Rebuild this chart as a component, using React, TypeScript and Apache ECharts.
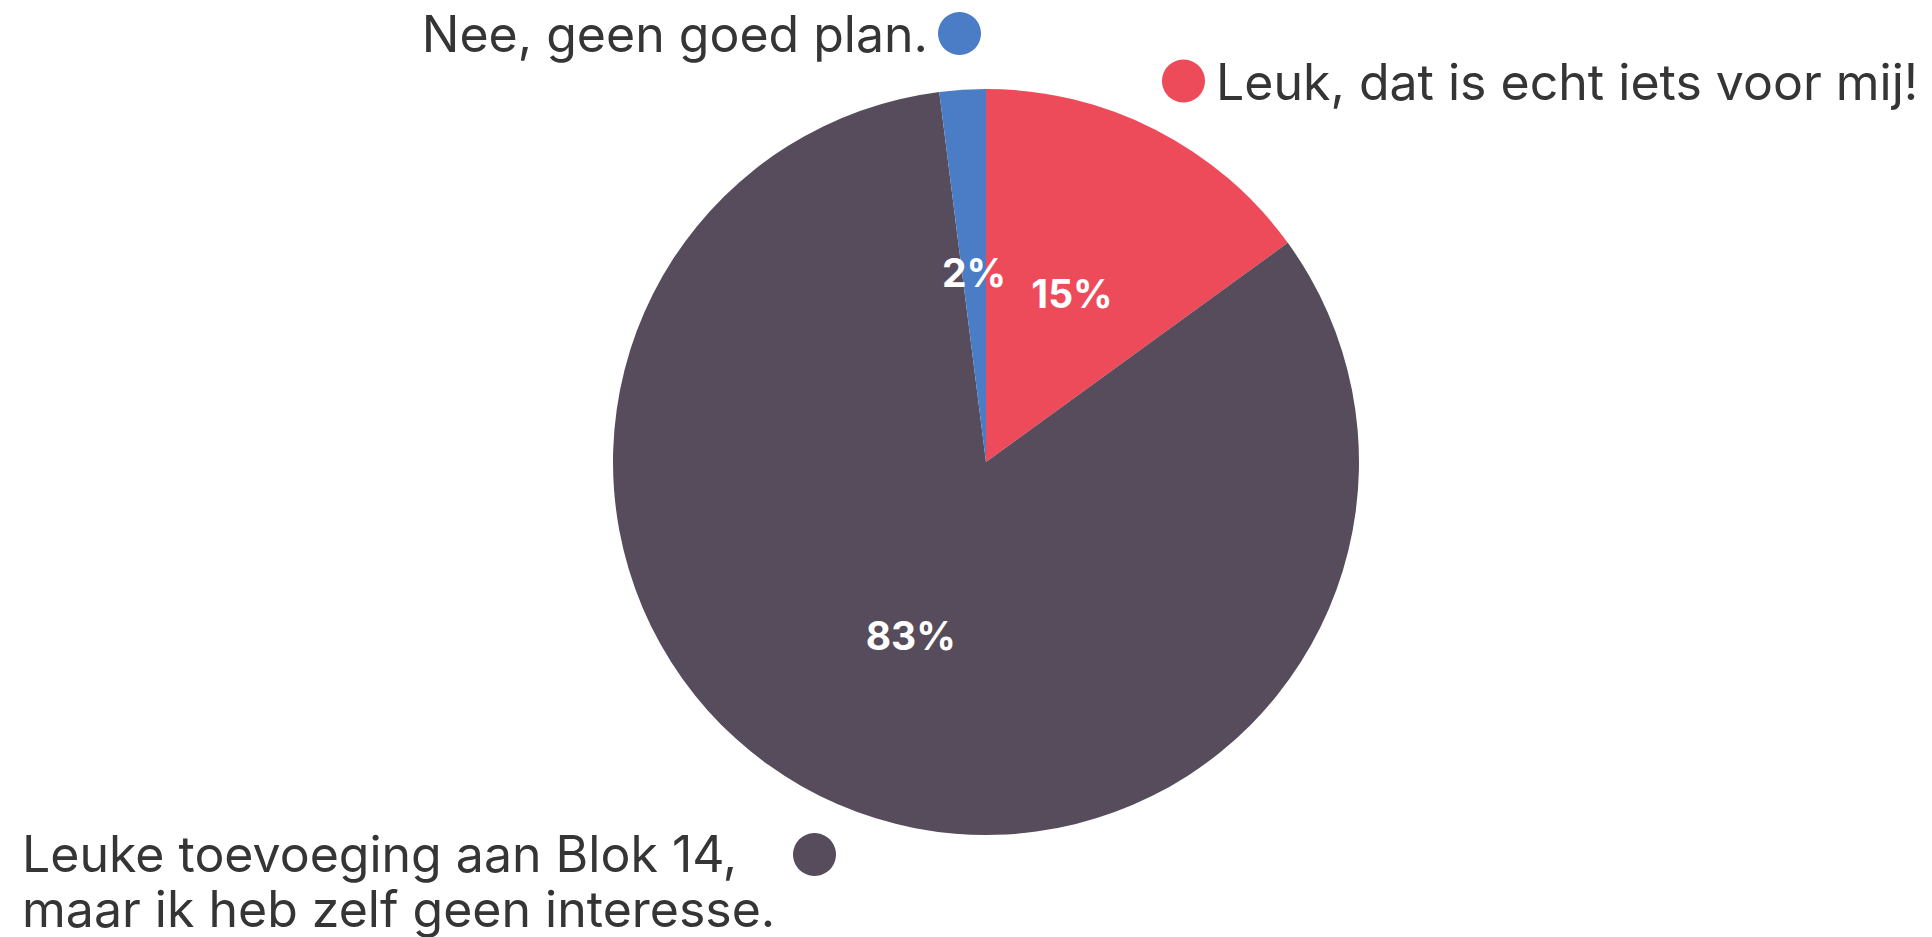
import React, { useEffect, useRef } from "react";
import * as echarts from "echarts";

const categories = [
  "Leuk, dat is echt iets voor mij!",
  "Leuke toevoeging aan Blok 14,\nmaar ik heb zelf geen interesse.",
  "Nee, geen goed plan.",
];
const values = [15, 83, 2];
const colors = ["#EE4B5A", "#564C5B", "#4A7DC5"];

const FONT = "Inter, 'Noto Sans', sans-serif";
const TEXT_COLOR = "#353535";

export default function App() {
  const ref = useRef<HTMLDivElement>(null);
  useEffect(() => {
    if (!ref.current) return;
    const chart = echarts.init(ref.current, undefined, { renderer: "svg" });
    const legendPos = [
      { dot: [1183.5, 81], text: [1216, 82], align: "left" },
      { dot: [814.5, 854.5], text: [22, 881], align: "left" },
      { dot: [959.5, 33.5], text: [928, 34], align: "right" },
    ];
    const graphic: any[] = [];
    categories.forEach((c, i) => {
      const p = legendPos[i];
      graphic.push({
        type: "circle",
        shape: { cx: p.dot[0], cy: p.dot[1], r: 21.5 },
        style: { fill: colors[i] },
      });
      graphic.push({
        type: "text",
        x: p.text[0],
        y: p.text[1],
        style: {
          text: c,
          fontSize: 50,
          fontFamily: FONT,
          fill: TEXT_COLOR,
          lineHeight: 55,
          align: p.align,
          verticalAlign: "middle",
          textAlign: p.align,
          textVerticalAlign: "middle",
        },
      });
    });
    chart.setOption({
      animation: false,
      backgroundColor: "#ffffff",
      graphic,
      series: [
        {
          type: "pie",
          center: [986, 462],
          radius: [0, 373],
          startAngle: 90,
          clockwise: true,
          silent: true,
          label: {
            show: true,
            position: "inside",
            formatter: (p: any) => Math.round(p.percent) + "%",
            color: "#ffffff",
            fontSize: 39,
            fontWeight: "bold",
            fontFamily: FONT,
          },
          labelLine: { show: false },
          itemStyle: { borderWidth: 0 },
          data: categories.map((c, i) => ({
            name: c,
            value: values[i],
            itemStyle: { color: colors[i] },
          })),
        },
      ],
    });
    return () => chart.dispose();
  }, []);
  return (
    <div
      ref={ref}
      style={{ position: "fixed", left: 0, top: 0, width: 1932, height: 937 }}
    />
  );
}
